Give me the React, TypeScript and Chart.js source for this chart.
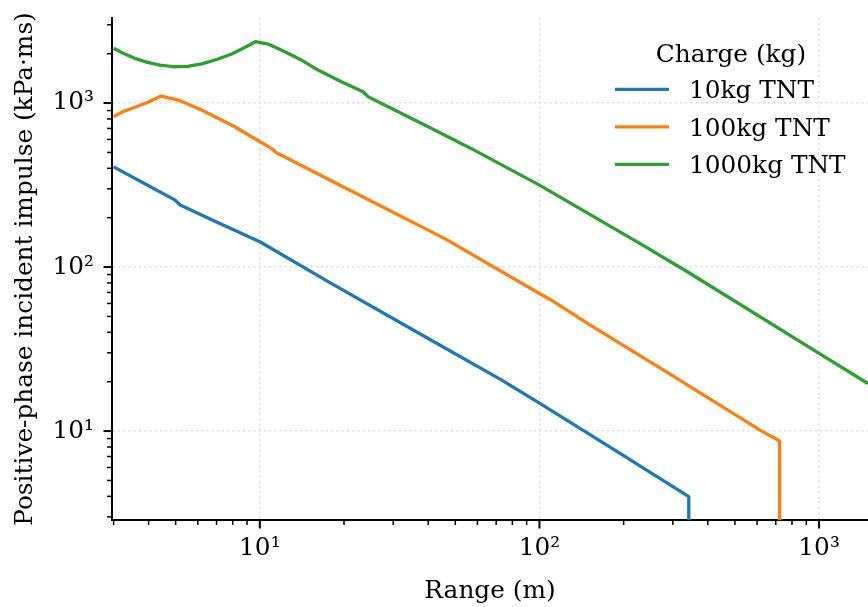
import React, { useEffect, useRef } from 'react';
import { Chart, registerables } from 'chart.js';

Chart.register(...registerables);

// ---- data ----
const series10Label = '10kg TNT';
const series10X = [3, 4, 4.98, 5.19, 7, 10, 18, 40, 72.8, 100, 200, 342, 342];
const series10Y = [408, 313, 256, 239, 188, 142.6, 79.6, 36.7, 20.6, 14.8, 7.08, 3.98, 1];

const series100Label = '100kg TNT';
const series100X = [3, 3.21, 3.58, 4.0, 4.43, 5.12, 6.19, 8.14, 9.34, 11.0, 11.47, 20, 45.7, 100, 110, 152, 300, 617, 723, 723];
const series100Y = [826, 880, 942, 1014, 1103, 1043, 906, 717, 623, 529, 498, 307, 149.6, 69, 63, 44.3, 21.7, 10.1, 8.7, 1];

const series1000Label = '1000kg TNT';
const series1000X = [3, 3.26, 3.57, 3.94, 4.39, 4.92, 5.52, 6.2, 7.01, 7.93, 8.97, 9.65, 10.71, 12.28, 14.09, 16.15, 19.56, 23.4, 24.4, 40, 56.9, 100, 245, 294, 327, 1000, 1496];
const series1000Y = [2156, 2004, 1874, 1778, 1705, 1665, 1674, 1734, 1842, 1990, 2211, 2365, 2290, 2055, 1829, 1589, 1349, 1172, 1093, 716, 529, 316, 130, 107.7, 97, 29.8, 19.5];

const colors = ['#1f77b4', '#ff7f0e', '#2ca02c'];

const xMin = 2.96;
const xMax = 1496;
const yMin = 2.87;
const yMax = 3300;

const xTickValues = [3, 4, 5, 6, 7, 8, 9, 10, 20, 30, 40, 50, 60, 70, 80, 90, 100, 200, 300, 400, 500, 600, 700, 800, 900, 1000];
const yTickValues = [3, 4, 5, 6, 7, 8, 9, 10, 20, 30, 40, 50, 60, 70, 80, 90, 100, 200, 300, 400, 500, 600, 700, 800, 900, 1000, 2000, 3000];
const majorTickValues = [10, 100, 1000];
const majorTickLabels = ['10¹', '10²', '10³'];

const xTitle = 'Range (m)';
const yTitle = 'Positive-phase incident impulse (kPa·ms)';
const legendTitle = 'Charge (kg)';

const FONT_FAMILY = '"DejaVu Serif", serif';
const FONT_SIZE = 24.8;

const isMajor = (v: number) => majorTickValues.indexOf(v) >= 0;
const labelFor = (v: number) => {
  const i = majorTickValues.indexOf(v);
  return i >= 0 ? majorTickLabels[i] : null;
};

const toPoints = (xs: number[], ys: number[]) => xs.map((x, i) => ({ x, y: ys[i] }));

const tickMarksPlugin = {
  id: 'tickMarks',
  afterDraw(chart: any) {
    const ctx = chart.ctx;
    const area = chart.chartArea;
    const xs = chart.scales.x;
    const ys = chart.scales.y;
    ctx.save();
    ctx.strokeStyle = '#000';
    xTickValues.forEach((v) => {
      if (v < xMin || v > xMax) return;
      const px = xs.getPixelForValue(v);
      const major = isMajor(v);
      ctx.lineWidth = major ? 2 : 1.5;
      ctx.beginPath();
      ctx.moveTo(px, area.bottom);
      ctx.lineTo(px, area.bottom + (major ? 8.5 : 5));
      ctx.stroke();
    });
    yTickValues.forEach((v) => {
      if (v < yMin || v > yMax) return;
      const py = ys.getPixelForValue(v);
      const major = isMajor(v);
      ctx.lineWidth = major ? 2 : 1.5;
      ctx.beginPath();
      ctx.moveTo(area.left, py);
      ctx.lineTo(area.left - (major ? 8.5 : 5), py);
      ctx.stroke();
    });
    ctx.restore();
  },
};

const legendPlugin = {
  id: 'innerLegend',
  afterDraw(chart: any) {
    const ctx = chart.ctx;
    ctx.save();
    ctx.font = `${FONT_SIZE}px ${FONT_FAMILY}`;
    ctx.fillStyle = '#000';
    ctx.textBaseline = 'alphabetic';
    ctx.textAlign = 'center';
    ctx.fillText(legendTitle, 731, 61.5);
    const rows = chart.data.datasets;
    rows.forEach((ds: any, i: number) => {
      const y = 89.3 + i * 37.5;
      ctx.strokeStyle = ds.borderColor;
      ctx.lineWidth = 3.3;
      ctx.beginPath();
      ctx.moveTo(615, y);
      ctx.lineTo(669, y);
      ctx.stroke();
      ctx.textAlign = 'left';
      ctx.fillText(ds.label, 689, y + 9);
    });
    ctx.restore();
  },
};

export default function App() {
  const canvasRef = useRef<HTMLCanvasElement | null>(null);

  useEffect(() => {
    const canvas = canvasRef.current;
    if (!canvas) return;
    const font = { family: FONT_FAMILY, size: FONT_SIZE };
    const makeDs = (label: string, xs: number[], ys: number[], color: string) => ({
      label,
      data: toPoints(xs, ys),
      borderColor: color,
      backgroundColor: color,
      borderWidth: 3.3,
      pointRadius: 0,
      tension: 0,
      fill: false,
      clip: 0,
      borderJoinStyle: 'round' as const,
    });
    const gridColor = (c: any) => (c.tick && isMajor(c.tick.value) ? '#dadada' : 'rgba(0,0,0,0)');
    const chart = new Chart(canvas, {
      type: 'line',
      data: {
        datasets: [
          makeDs(series10Label, series10X, series10Y, colors[0]),
          makeDs(series100Label, series100X, series100Y, colors[1]),
          makeDs(series1000Label, series1000X, series1000Y, colors[2]),
        ],
      },
      options: {
        animation: false,
        responsive: false,
        devicePixelRatio: 1,
        layout: { autoPadding: false, padding: { top: 18, right: 0, left: 0, bottom: 0 } },
        plugins: {
          legend: { display: false },
          tooltip: { enabled: false },
          title: { display: false },
        },
        scales: {
          x: {
            type: 'logarithmic',
            min: xMin,
            max: xMax,
            afterBuildTicks: (scale: any) => {
              scale.ticks = xTickValues.map((v) => ({ value: v, major: isMajor(v) }));
            },
            afterFit: (scale: any) => {
              scale.height = 87;
              scale.paddingLeft = 0;
              scale.paddingRight = 0;
              scale.paddingTop = 0;
              scale.paddingBottom = 0;
            },
            ticks: {
              autoSkip: false,
              maxRotation: 0,
              minRotation: 0,
              padding: 6,
              color: '#000',
              font,
              callback: (v: any) => labelFor(Number(v)),
            },
            grid: {
              color: gridColor,
              lineWidth: 1.4,
              drawTicks: true,
              tickLength: 8,
              tickColor: 'rgba(0,0,0,0)',
            },
            border: { display: true, color: '#000', width: 2, dash: [2, 3.2] },
            title: {
              display: true,
              text: xTitle,
              color: '#000',
              font,
              padding: { top: 0, bottom: 1 },
            },
          },
          y: {
            type: 'logarithmic',
            min: yMin,
            max: yMax,
            afterBuildTicks: (scale: any) => {
              scale.ticks = yTickValues.map((v) => ({ value: v, major: isMajor(v) }));
            },
            afterFit: (scale: any) => {
              scale.width = 112;
              scale.paddingLeft = 0;
              scale.paddingRight = 0;
              scale.paddingTop = 0;
              scale.paddingBottom = 0;
            },
            ticks: {
              autoSkip: false,
              padding: 10,
              color: '#000',
              font,
              callback: (v: any) => labelFor(Number(v)),
            },
            grid: {
              color: gridColor,
              lineWidth: 1.4,
              drawTicks: true,
              tickLength: 8,
              tickColor: 'rgba(0,0,0,0)',
            },
            border: { display: true, color: '#000', width: 2, dash: [2, 3.2] },
            title: {
              display: true,
              text: yTitle,
              color: '#000',
              font,
              padding: { top: 11, bottom: 0 },
            },
          },
        },
      } as any,
      plugins: [tickMarksPlugin, legendPlugin],
    });
    return () => chart.destroy();
  }, []);

  return (
    <div style={{ position: 'fixed', left: 0, top: 0, width: 868, height: 607, background: '#fff' }}>
      <canvas ref={canvasRef} width={868} height={607} style={{ width: 868, height: 607, display: 'block' }} />
    </div>
  );
}
